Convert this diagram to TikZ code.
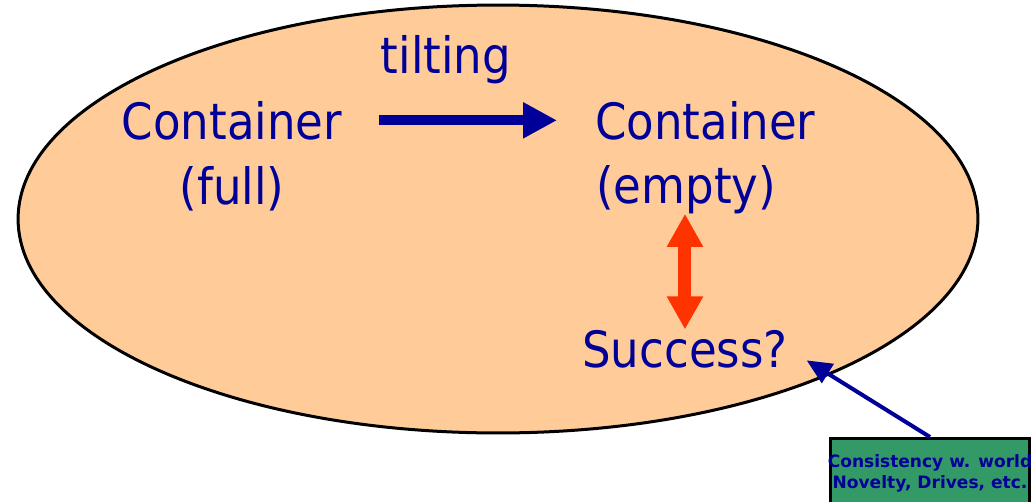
\documentclass[tikz,border=0pt]{standalone}
\usepackage{fontspec}
\setmainfont{DejaVu Sans Condensed}
\newfontfamily\cuefont{DejaVu Sans}
\usetikzlibrary{shapes.geometric,arrows.meta}
\definecolor{txtblue}{RGB}{0,0,153}
\definecolor{potfill}{RGB}{255,204,153}
\definecolor{swaporange}{RGB}{255,51,0}
\definecolor{cuegreen}{RGB}{51,153,102}
\tikzset{
  lbl/.style={text=txtblue, inner sep=0pt, font=\fontsize{28.5pt}{34pt}\selectfont},
  cuetxt/.style={text=txtblue, inner sep=0pt, font=\cuefont\bfseries\fontsize{9.7pt}{12pt}\selectfont},
  tiltarrow/.style={draw=txtblue, line width=0.2cm, -{Triangle[length=0.68cm,width=0.68cm]}},
  swaparrow/.style={draw=swaporange, line width=0.26cm, {Triangle[length=0.66cm,width=0.68cm]}-{Triangle[length=0.66cm,width=0.68cm]}},
  cuearrow/.style={draw=txtblue, line width=0.08cm, -{Triangle[length=0.5cm,width=0.44cm]}}
}
\begin{document}
\begin{tikzpicture}[x=0.02cm,y=-0.02cm]
	\useasboundingbox (0,0) rectangle (1032,501);
	
	\node[ellipse, draw, line width=0.06cm, fill=potfill, minimum width=19.2cm, minimum height=8.56cm, inner sep=0pt] (pot) at (498,219) {};
	
	\node[lbl, anchor=base] (tilt) at (446,73) {tilting};
	\node[lbl, anchor=base] (fullA) at (232,139) {Container};
	\node[lbl, anchor=base] (fullB) at (232,204) {(full)};
	\node[lbl, anchor=base west] (emptyA) at (595,139) {Container};
	\node[lbl, anchor=base west] (emptyB) at (596,203) {(empty)};
	\node[lbl, anchor=base west] (succ) at (582,367) {Success?};
	
	\draw[tiltarrow, shorten <=0.74cm, shorten >=0.76cm] (fullA.east) -- (emptyA.west);
	\draw[swaparrow] (succ.north) -- (succ.north |- emptyB.south);
	
	% cue box, partly off the page
	\node[draw, line width=0.06cm, fill=cuegreen, minimum width=4cm, minimum height=1.6cm, inner sep=0pt, anchor=north] (cues) at (930,437) {};
	\node[cuetxt, anchor=base] (cueA) at (930,467) {Consistency w. world};
	\node[cuetxt, anchor=base] (cueB) at (930,488) {Novelty, Drives, etc.};
	
	\draw[cuearrow, shorten >=0.44cm] (cues.north) -- (succ.east);
\end{tikzpicture}
\end{document}
